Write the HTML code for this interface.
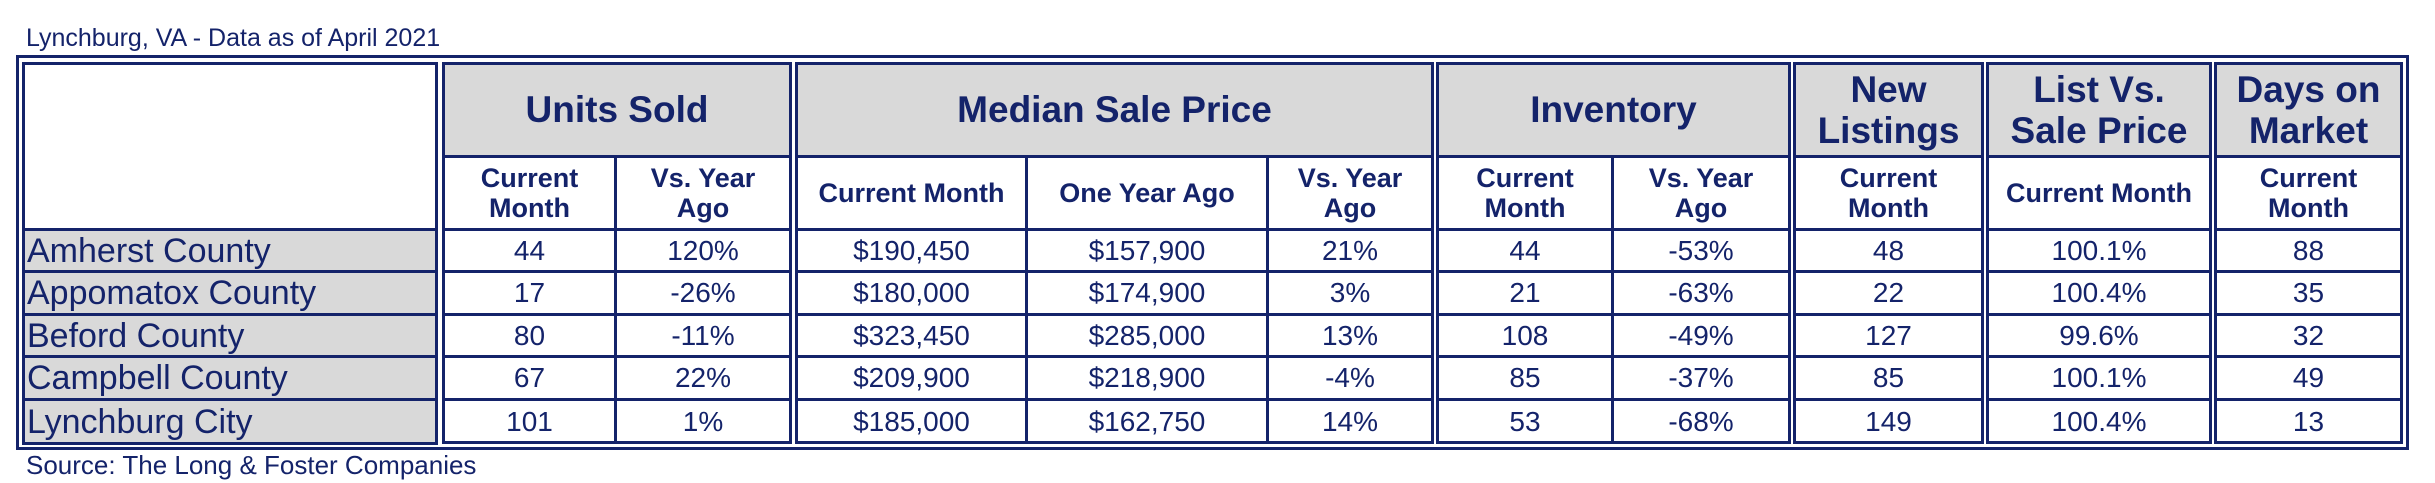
<!DOCTYPE html>
<html><head><meta charset="utf-8">
<style>
html,body{margin:0;padding:0;background:#fff;}
#root{position:relative;width:2435px;height:483px;overflow:hidden;font-family:"Liberation Sans",Arial,sans-serif;color:#14236a;}
.abs{position:absolute;box-sizing:border-box;}
.cell{position:absolute;display:flex;align-items:center;justify-content:center;text-align:center;box-sizing:border-box;line-height:1.12;}
.grp{position:absolute;box-sizing:border-box;border:3px solid #14236a;}
.hl{position:absolute;background:#14236a;height:3px;}
.vl{position:absolute;background:#14236a;width:3px;}
</style></head>
<body>
<div id="root">
  <div class="abs" style="left:26px;top:24px;font-size:25px;white-space:nowrap;">Lynchburg, VA - Data as of April 2021</div>
  <div class="abs" style="left:16px;top:55px;width:2393px;height:395px;border:3px solid #14236a;"></div>
  <div class="abs" style="left:26px;top:450px;font-size:26px;white-space:nowrap;">Source: The Long &amp; Foster Companies</div>
</div>
<script>
var regions = ["Amherst County","Appomatox County","Beford County","Campbell County","Lynchburg City"];
var groupTitles = ["Units Sold","Median Sale Price","Inventory","New<br>Listings","List Vs.<br>Sale Price","Days on<br>Market"];
var subTitles = [["Current<br>Month","Vs. Year<br>Ago"],["Current Month","One Year Ago","Vs. Year<br>Ago"],["Current<br>Month","Vs. Year<br>Ago"],["Current<br>Month"],["Current Month"],["Current<br>Month"]];
var unitsCur = ["44","17","80","67","101"];
var unitsYoY = ["120%","-26%","-11%","22%","1%"];
var priceCur = ["$190,450","$180,000","$323,450","$209,900","$185,000"];
var priceYearAgo = ["$157,900","$174,900","$285,000","$218,900","$162,750"];
var priceYoY = ["21%","3%","13%","-4%","14%"];
var invCur = ["44","21","108","85","53"];
var invYoY = ["-53%","-63%","-49%","-37%","-68%"];
var newListings = ["48","22","127","85","149"];
var listVsSale = ["100.1%","100.4%","99.6%","100.1%","100.4%"];
var daysOnMarket = ["88","35","32","49","13"];

var root = document.getElementById('root');
var groupCols = [[442,614,789],[795,1025,1266,1431],[1436,1611,1788],[1793,1981],[1986,2209],[2214,2400]];
var groupData = [[unitsCur,unitsYoY],[priceCur,priceYearAgo,priceYoY],[invCur,invYoY],[newListings],[listVsSale],[daysOnMarket]];
var groupNames = ['units-sold','median-sale-price','inventory','new-listings','list-vs-sale-price','days-on-market'];
var rowY = [229,271,314,356,399,443];
var TOP = 62, HDR = 156;

function mk(cls, l, t, w, h){
  var d = document.createElement('div');
  d.className = cls;
  d.style.left = l+'px'; d.style.top = t+'px';
  if (w!=null) d.style.width = w+'px';
  if (h!=null) d.style.height = h+'px';
  root.appendChild(d);
  return d;
}

// name block
var nb = mk('grp', 22, TOP, 416, rowY[5]-TOP+1);


for (var r=0;r<regions.length;r++){
  var bg = mk('abs', 25, rowY[r]+1, 410, rowY[r+1]-rowY[r]);
  bg.style.background = '#d9d9d9';
  
  
  var c = mk('cell', 25, rowY[r]+1, 410, rowY[r+1]-rowY[r]);
  c.style.justifyContent = 'flex-start';
  c.style.paddingLeft = '2px';
  c.style.fontSize = '34px';
  c.textContent = regions[r];
  
  
}
for (var r=0;r<6;r++){
  var l = mk('hl', 22, rowY[r]-1, 416, null);
  
  
}

for (var g=0; g<groupCols.length; g++){
  var xs = groupCols[g];
  var gl = xs[0], gr = xs[xs.length-1];
  var box = mk('grp', gl, TOP, gr-gl+3, rowY[5]-TOP+1);
  
  
  var hb = mk('abs', gl+3, TOP+3, gr-gl-3, HDR-TOP-3);
  hb.style.background = '#d9d9d9';
  
  
  var ht = mk('cell', gl+3, TOP+3, gr-gl-3, HDR-TOP-3);
  ht.style.fontSize = '37px'; ht.style.fontWeight = 'bold'; ht.style.lineHeight = '1.1';
  ht.innerHTML = groupTitles[g];
  
  
  var hl = mk('hl', gl, HDR-1, gr-gl+3, null);
  
  
  for (var r=0;r<5;r++){
    var rl = mk('hl', gl, rowY[r]-1, gr-gl+3, null);
    
    
  }
  for (var k=1;k<xs.length-1;k++){
    var vl = mk('vl', xs[k], HDR, null, rowY[5]-HDR);
    
    
  }
  for (var k=0;k<xs.length-1;k++){
    var x0 = xs[k]+3, w = xs[k+1]-xs[k]-3;
    var st = mk('cell', x0, HDR+2, w, rowY[0]-HDR-3);
    st.style.fontSize = '27px'; st.style.fontWeight = 'bold';
    st.innerHTML = subTitles[g][k];
    
    
    var col = groupData[g][k];
    for (var r=0;r<col.length;r++){
      var dc = mk('cell', x0, rowY[r]+2, w, rowY[r+1]-rowY[r]-3);
      dc.style.fontSize = '28px';
      dc.textContent = col[r];
      
      
    }
  }
}
</script>
</body></html>
